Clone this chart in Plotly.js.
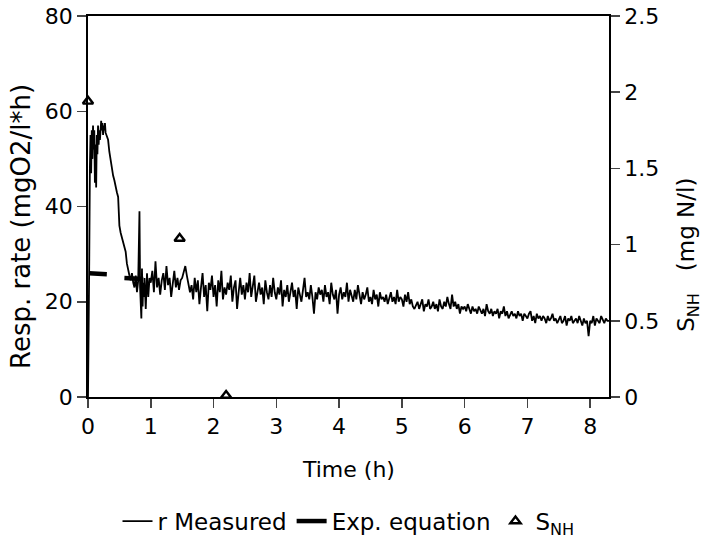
<!DOCTYPE html>
<html>
<head>
<meta charset="utf-8">
<script src="https://cdn.plot.ly/plotly-3.0.1.min.js"></script>
<style>html,body{margin:0;padding:0;background:#fff;}#chart{width:704px;height:540px;}</style>
</head>
<body>
<div id="chart"></div>
<script>
// Measured respiration rate, early part (h, mgO2/l*h)
const tEarly = [0, 0.01, 0.02, 0.03, 0.04, 0.05, 0.06, 0.07, 0.08, 0.09, 0.10, 0.11, 0.12, 0.13, 0.14, 0.15, 0.16, 0.17, 0.18, 0.19, 0.20, 0.21, 0.22, 0.23, 0.24, 0.25, 0.26, 0.27, 0.28, 0.29, 0.30, 0.32, 0.34, 0.36, 0.38, 0.40, 0.42, 0.44, 0.46, 0.48, 0.49, 0.50, 0.52, 0.54, 0.56, 0.58, 0.60, 0.62, 0.64, 0.66, 0.68, 0.70, 0.72, 0.74, 0.76, 0.78, 0.80, 0.81, 0.82, 0.83, 0.84, 0.85, 0.86, 0.87, 0.88, 0.89, 0.90, 0.92, 0.94, 0.96, 0.98];
const rEarly = [0, 27, 29, 48, 55, 47, 56, 50, 57, 52, 56, 45, 53, 44, 55, 51, 57, 53, 56, 54, 57, 58, 56, 57.5, 55, 57, 56, 57.5, 55.5, 55, 54.5, 54, 51.5, 49.5, 47.5, 46.5, 45.5, 44, 43, 42, 39, 36, 34.5, 33.5, 32.5, 31.6, 30.5, 28, 26.5, 25.5, 24.5, 26, 24, 23, 25.5, 22, 24.5, 30, 39, 23, 20, 16.5, 27, 19, 24, 21, 25, 18.5, 26, 21, 25];

// Measured respiration rate, 1 h to 8.3 h
const tLate = [
1.000,1.025,1.050,1.075,1.100,1.125,1.150,1.175,1.200,1.225,
1.250,1.275,1.300,1.325,1.350,1.375,1.400,1.425,1.450,1.475,
1.500,1.525,1.550,1.575,1.600,1.625,1.650,1.675,1.700,1.725,
1.750,1.775,1.800,1.825,1.850,1.875,1.900,1.925,1.950,1.975,
2.000,2.025,2.050,2.075,2.100,2.125,2.150,2.175,2.200,2.225,
2.250,2.275,2.300,2.325,2.350,2.375,2.400,2.425,2.450,2.475,
2.500,2.525,2.550,2.575,2.600,2.625,2.650,2.675,2.700,2.725,
2.750,2.775,2.800,2.825,2.850,2.875,2.900,2.925,2.950,2.975,
3.000,3.025,3.050,3.075,3.100,3.125,3.150,3.175,3.200,3.225,
3.250,3.275,3.300,3.325,3.350,3.375,3.400,3.425,3.450,3.475,
3.500,3.525,3.550,3.575,3.600,3.625,3.650,3.675,3.700,3.725,
3.750,3.775,3.800,3.825,3.850,3.875,3.900,3.925,3.950,3.975,
4.000,4.025,4.050,4.075,4.100,4.125,4.150,4.175,4.200,4.225,
4.250,4.275,4.300,4.325,4.350,4.375,4.400,4.425,4.450,4.475,
4.500,4.525,4.550,4.575,4.600,4.625,4.650,4.675,4.700,4.725,
4.750,4.775,4.800,4.825,4.850,4.875,4.900,4.925,4.950,4.975,
5.000,5.025,5.050,5.075,5.100,5.125,5.150,5.175,5.200,5.225,
5.250,5.275,5.300,5.325,5.350,5.375,5.400,5.425,5.450,5.475,
5.500,5.525,5.550,5.575,5.600,5.625,5.650,5.675,5.700,5.725,
5.750,5.775,5.800,5.825,5.850,5.875,5.900,5.925,5.950,5.975,
6.000,6.025,6.050,6.075,6.100,6.125,6.150,6.175,6.200,6.225,
6.250,6.275,6.300,6.325,6.350,6.375,6.400,6.425,6.450,6.475,
6.500,6.525,6.550,6.575,6.600,6.625,6.650,6.675,6.700,6.725,
6.750,6.775,6.800,6.825,6.850,6.875,6.900,6.925,6.950,6.975,
7.000,7.025,7.050,7.075,7.100,7.125,7.150,7.175,7.200,7.225,
7.250,7.275,7.300,7.325,7.350,7.375,7.400,7.425,7.450,7.475,
7.500,7.525,7.550,7.575,7.600,7.625,7.650,7.675,7.700,7.725,
7.750,7.775,7.800,7.825,7.850,7.875,7.900,7.925,7.950,7.975,
8.000,8.025,8.050,8.075,8.100,8.125,8.150,8.175,8.200,8.225,
8.250,8.275,8.300];
const rLate = [
24, 26.5, 22, 28.5, 23, 25, 21.5, 24.5, 26, 22.5,
27.5, 23.5, 25, 21, 24, 26.5, 23, 25, 22.5, 24.5,
25, 26, 27.5, 25.5, 24, 22, 23.5, 20.5, 25, 22,
24.5, 19.5, 23, 26, 21, 23.5, 18, 24, 22.5, 25.5,
21, 23.5, 19, 24.5, 22, 26.5, 20.5, 23, 21.5, 24,
22.5, 25.5, 20, 23, 24.5, 18.5, 22, 25, 21.5, 23.5,
20.5, 24, 22, 26, 21, 23, 25.5, 20, 22.5, 24,
21.5, 23, 19.5, 24.5, 22, 20.5, 23.5, 21, 25, 22,
20.5, 23, 21.5, 24.5, 19, 22.5, 21, 23.5, 20, 22,
24, 21, 22.5, 18.5, 23, 21.5, 20, 22.5, 25, 21,
22, 20.5, 23.5, 21, 17.5, 22, 20.5, 23, 21.5, 22.5,
20, 23.5, 21, 22, 19.5, 24, 21.5, 20.5, 22.5, 17.5,
21.5, 23, 20.5, 22, 21, 24, 20, 22.5, 21, 20,
22.5, 20.5, 23.5, 21, 19.5, 22, 20.5, 21.5, 23, 20,
21, 19.5, 22.5, 20.5, 21.5, 19, 22, 20.5, 21, 20,
21.5, 19.5, 20.5, 22, 20, 21, 19.5, 22.5, 20, 21,
20.5, 19, 21.5, 20, 22, 19.5, 20.5, 19, 18.5, 19.5,
20, 18.5, 19.5, 20.5, 18, 19.5, 19, 20.5, 18.5, 19,
20, 18.5, 19.5, 18, 20.5, 19, 18.5, 20, 19, 21,
19.5, 18.5, 21.5, 19, 20, 18.5, 19.5, 17.5, 19, 18.5,
19, 18, 19.5, 18.5, 17.5, 19, 18, 18.5, 17.5, 19,
18, 17.5, 18.5, 17, 19.5, 18, 17.5, 18.5, 17, 18,
17.5, 18.5, 16.5, 18, 17.5, 19, 17, 18, 16.5, 17.5,
18, 17, 17.5, 16.5, 18, 17, 17.5, 16, 17.5, 17,
16.5, 17.5, 18, 16, 17, 15.5, 17.5, 16.5, 17, 16,
17, 16.5, 15.5, 17, 16, 16.5, 17.5, 16, 16.5, 15.5,
16.5, 17, 15.5, 16, 17, 15, 16.5, 16, 17, 15.5,
16, 16.5, 15.5, 17, 16, 15, 16.5, 15.5, 16, 12.8,
16, 15.5, 17, 15, 16.5, 16, 15.5, 17, 16, 15.5,
16.5, 16, 16];

// Exponential equation (visible segments)
const tExp = [0.02, 0.30, null, 0.58, 0.88];
const rExp = [26, 25.8, null, 25, 24.8];

// Ammonium S_NH (mg N/l)
const tSnh = [0.0, 1.46, 2.2];
const sSnh = [1.94, 1.04, 0.01];

const xTicks = [0, 1, 2, 3, 4, 5, 6, 7, 8];
const yTicks = [0, 20, 40, 60, 80];
const y2Ticks = [0, 0.5, 1, 1.5, 2, 2.5];
const y2TickText = ['0', '0.5', '1', '1.5', '2', '2.5'];

const F = 'DejaVu Sans, Arial, sans-serif';

const traces = [
  {x: tExp, y: rExp, type: 'scatter', mode: 'lines', name: 'Exp. equation', legendrank: 2,
   line: {color: '#000', width: 4.5}, connectgaps: false},
  {x: tEarly.concat(tLate), y: rEarly.concat(rLate), type: 'scatter', mode: 'lines', name: 'r Measured', legendrank: 1,
   line: {color: '#000', width: 1.8}},
  {x: tSnh, y: sSnh, yaxis: 'y2', type: 'scatter', mode: 'markers', name: 'S<sub>NH</sub>', legendrank: 3,
   marker: {symbol: 'triangle-up', size: 9, color: '#fff', line: {color: '#000', width: 2.4}}, cliponaxis: false}
];

const axisCommon = {ticks: 'outside', ticklen: 9, tickwidth: 1.5, showline: true, linecolor: '#000',
  linewidth: 1.8, showgrid: false, zeroline: false, automargin: false, tickfont: {size: 22, family: F}};

const layout = {
  width: 704, height: 540,
  margin: {l: 88, r: 95, t: 16, b: 143, autoexpand: false},
  paper_bgcolor: '#fff', plot_bgcolor: '#fff',
  font: {family: F, size: 22, color: '#000'},
  showlegend: true,
  legend: {orientation: 'h', x: 0.5, xanchor: 'center', yref: 'container', y: 0.035, yanchor: 'middle',
    font: {size: 23, family: F}, itemwidth: 30, bgcolor: 'rgba(0,0,0,0)'},
  xaxis: Object.assign({}, axisCommon, {range: [0, 8.3], tickvals: xTicks, mirror: true}),
  yaxis: Object.assign({}, axisCommon, {range: [0, 80], tickvals: yTicks}),
  yaxis2: Object.assign({}, axisCommon, {range: [0, 2.5], overlaying: 'y', side: 'right',
    tickvals: y2Ticks, ticktext: y2TickText}),
  annotations: [
    {text: 'Time (h)', xref: 'paper', yref: 'paper', x: 0.5, y: -0.19, xanchor: 'center', yanchor: 'middle',
     showarrow: false, font: {size: 22, family: F}},
    {text: 'Resp. rate (mgO2/l*h)', xref: 'paper', yref: 'paper', x: -0.1286, y: 0.449, xanchor: 'center', yanchor: 'middle',
     textangle: -90, showarrow: false, font: {size: 26, family: F}},
    {text: 'S<sub>NH</sub>   (mg N/l)', xref: 'paper', yref: 'paper', x: 1.1516, y: 0.373, xanchor: 'center', yanchor: 'middle',
     textangle: -90, showarrow: false, font: {size: 23, family: F}}
  ]
};

Plotly.newPlot('chart', traces, layout, {staticPlot: true, displayModeBar: false});
</script>
</body>
</html>
